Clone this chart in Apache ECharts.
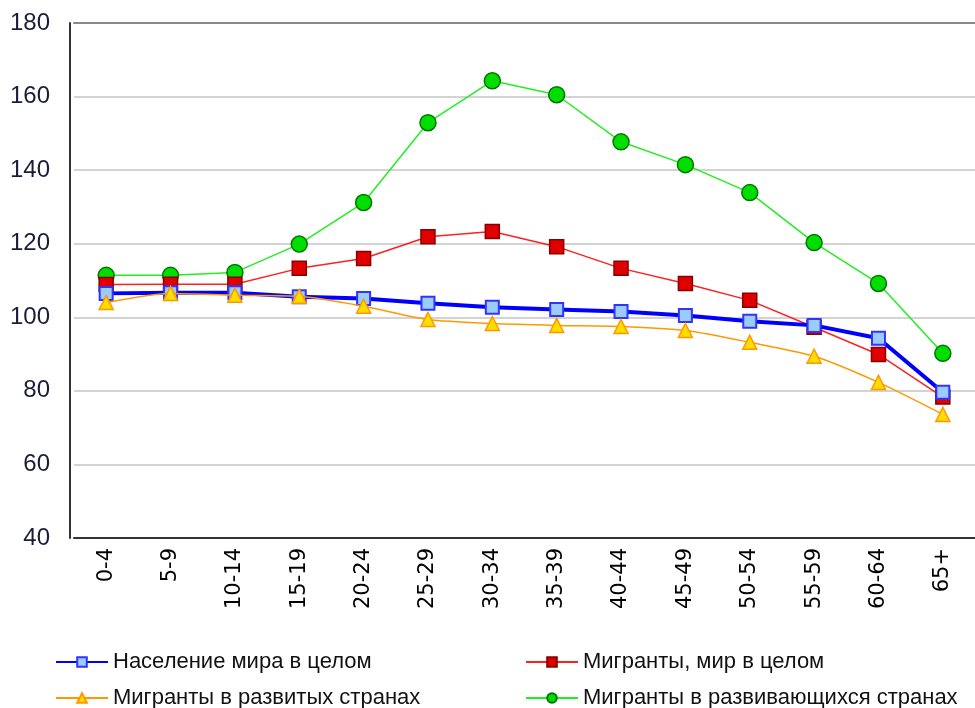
<!DOCTYPE html>
<html lang="ru">
<head>
    <meta charset="UTF-8">
    <title>Migrants by age</title>
    <script src="https://cdn.jsdelivr.net/npm/echarts@6/dist/echarts.min.js"></script>
    <style>
        html, body { margin: 0; padding: 0; background: #fff; }
        #chart { width: 975px; height: 708px; }
    </style>
</head>
<body>
    <div id="chart"></div>
    <script>
        var ages = ['0-4', '5-9', '10-14', '15-19', '20-24', '25-29', '30-34', '35-39', '40-44', '45-49', '50-54', '55-59', '60-64', '65+'];
        var worldPop = [106.5, 106.7, 106.7, 105.6, 105.1, 103.8, 102.7, 102.1, 101.6, 100.5, 98.9, 97.8, 94.3, 79.6];
        var migrWorld = [108.9, 109.0, 109.0, 113.3, 116.0, 121.9, 123.3, 119.2, 113.3, 109.2, 104.6, 97.3, 89.9, 78.3];
        var migrDeveloped = [104.0, 106.5, 106.0, 105.7, 103.0, 99.4, 98.3, 97.8, 97.5, 96.4, 93.2, 89.4, 82.3, 73.6];
        var migrDeveloping = [111.4, 111.4, 112.2, 119.9, 131.2, 152.9, 164.3, 160.5, 147.7, 141.5, 133.9, 120.3, 109.2, 90.2];
        var yTicks = [40, 60, 80, 100, 120, 140, 160, 180];

        var names = ['Население мира в целом', 'Мигранты, мир в целом', 'Мигранты в развитых странах', 'Мигранты в развивающихся странах'];

        // one legend per entry, laid out as 2x2
        var legendPos = [[55, 650], [525, 650], [55, 686], [525, 686]];
        var legends = names.map(function (n, i) {
            return {
                left: legendPos[i][0], top: legendPos[i][1],
                padding: 0,
                itemWidth: 52, itemHeight: 12, itemGap: 6,
                textStyle: { fontFamily: 'Liberation Sans', fontSize: 22, color: '#111', lineHeight: 24 },
                data: [n]
            };
        });

        var chart = echarts.init(document.getElementById('chart'));
        chart.setOption({
            backgroundColor: '#fff',
            animation: false,
            grid: { left: 74, right: -13, top: 23, bottom: 170 },
            legend: legends,
            xAxis: [
                {
                    type: 'category',
                    data: ages,
                    boundaryGap: true,
                    axisLine: { lineStyle: { color: '#333', width: 2 } },
                    axisTick: { show: false },
                    axisLabel: {
                        rotate: 90, margin: 10, interval: 0,
                        fontFamily: 'DejaVu Sans', fontSize: 21, color: '#000'
                    },
                    splitLine: { show: false }
                },
                {
                    type: 'category',
                    data: ages,
                    position: 'top',
                    axisLine: { lineStyle: { color: '#8a8a8a', width: 2 } },
                    axisTick: { show: false },
                    axisLabel: { show: false }
                }
            ],
            yAxis: {
                type: 'value',
                min: yTicks[0], max: yTicks[yTicks.length - 1], interval: 20,
                offset: 4,
                axisLine: { show: true, lineStyle: { color: '#333', width: 2 } },
                axisTick: { show: false },
                axisLabel: {
                    margin: 20, fontFamily: 'Liberation Sans', fontSize: 24, color: '#1c1c3a'
                },
                splitLine: { lineStyle: { color: '#c4c4c4', width: 1.5 } }
            },
            series: [
                {
                    name: names[0], type: 'line', data: worldPop, z: 4,
                    symbol: 'rect', symbolSize: 13,
                    lineStyle: { color: '#0000ff', width: 4 },
                    itemStyle: { color: '#99ccff', borderColor: '#3333ff', borderWidth: 2 }
                },
                {
                    name: names[1], type: 'line', data: migrWorld, z: 3,
                    symbol: 'rect', symbolSize: 14,
                    lineStyle: { color: '#ff2020', width: 1.5 },
                    itemStyle: { color: '#e00000', borderColor: '#880000', borderWidth: 1.5 }
                },
                {
                    name: names[2], type: 'line', data: migrDeveloped, z: 5,
                    smooth: 0.25,
                    symbol: 'triangle', symbolSize: 14,
                    lineStyle: { color: '#ff9900', width: 1.5 },
                    itemStyle: { color: '#ffdd00', borderColor: '#ff9900', borderWidth: 1.5 }
                },
                {
                    name: names[3], type: 'line', data: migrDeveloping, z: 2,
                    symbol: 'circle', symbolSize: 16,
                    lineStyle: { color: '#22ee22', width: 1.5 },
                    itemStyle: { color: '#00dd00', borderColor: '#007700', borderWidth: 1.5 }
                }
            ]
        });
    </script>
</body>
</html>
